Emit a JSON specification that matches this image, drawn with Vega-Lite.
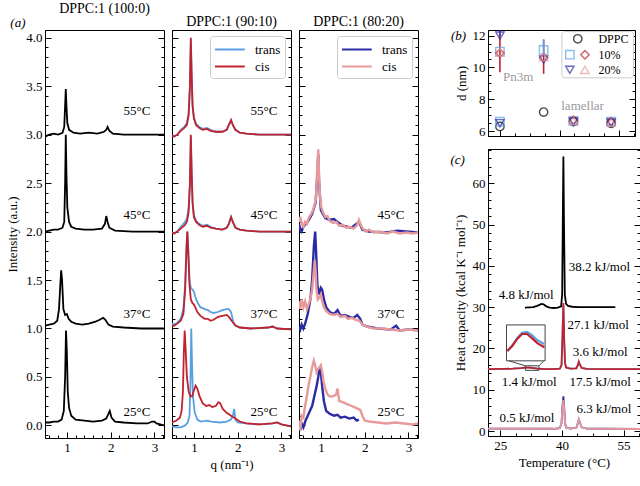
{
"$schema":"https://vega.github.io/schema/vega-lite/v6.json",
"background":"white",
"padding":{"left":6,"top":1,"right":0,"bottom":2},
"config":{
 "view":{"stroke":"black","strokeWidth":1},
 "font":"Liberation Serif",
 "axis":{"domainColor":"black","tickColor":"black","labelColor":"black","titleColor":"black","labelFont":"Liberation Serif","titleFont":"Liberation Serif","labelFontSize":13,"titleFontSize":13,"titleFontWeight":"normal","grid":false,"labelOverlap":false,"labelFlush":false,"tickWidth":1,"labelPadding":9,"tickSize":-6,"minExtent":0},
 "title":{"font":"Liberation Serif","fontSize":14,"fontWeight":"normal","offset":1,"color":"black","frame":"group"},
 "text":{"font":"Liberation Serif","fontSize":13,"color":"black"},
 "legend":{"labelFont":"Liberation Serif","labelFontSize":13,"labelColor":"black"}
},
"datasets":{
"a1":[
{"t":"25","q":0.5,"I":0.03},{"t":"25","q":0.6,"I":0.03},{"t":"25","q":0.7,"I":0.04},{"t":"25","q":0.8,"I":0.04},{"t":"25","q":0.88,"I":0.06},{"t":"25","q":0.93,"I":0.15},{"t":"25","q":0.96,"I":0.5},{"t":"25","q":0.98,"I":0.98},{"t":"25","q":1.0,"I":0.75},{"t":"25","q":1.02,"I":0.35},{"t":"25","q":1.05,"I":0.18},{"t":"25","q":1.1,"I":0.1},{"t":"25","q":1.2,"I":0.06},{"t":"25","q":1.4,"I":0.05},{"t":"25","q":1.6,"I":0.04},{"t":"25","q":1.8,"I":0.05},{"t":"25","q":1.9,"I":0.07},{"t":"25","q":1.95,"I":0.12},{"t":"25","q":1.98,"I":0.15},{"t":"25","q":2.02,"I":0.08},{"t":"25","q":2.1,"I":0.04},{"t":"25","q":2.3,"I":0.03},{"t":"25","q":2.6,"I":0.02},{"t":"25","q":2.85,"I":0.02},{"t":"25","q":2.95,"I":0.04},{"t":"25","q":3.0,"I":0.04},{"t":"25","q":3.05,"I":0.02},{"t":"25","q":3.22,"I":0.0},
{"t":"37","q":0.5,"I":1.03},{"t":"37","q":0.6,"I":1.04},{"t":"37","q":0.7,"I":1.05},{"t":"37","q":0.78,"I":1.08},{"t":"37","q":0.82,"I":1.2},{"t":"37","q":0.85,"I":1.45},{"t":"37","q":0.87,"I":1.6},{"t":"37","q":0.89,"I":1.5},{"t":"37","q":0.92,"I":1.2},{"t":"37","q":0.96,"I":1.14},{"t":"37","q":1.0,"I":1.15},{"t":"37","q":1.04,"I":1.1},{"t":"37","q":1.1,"I":1.07},{"t":"37","q":1.2,"I":1.05},{"t":"37","q":1.35,"I":1.04},{"t":"37","q":1.5,"I":1.05},{"t":"37","q":1.65,"I":1.07},{"t":"37","q":1.75,"I":1.09},{"t":"37","q":1.83,"I":1.11},{"t":"37","q":1.88,"I":1.09},{"t":"37","q":1.95,"I":1.04},{"t":"37","q":2.05,"I":1.02},{"t":"37","q":2.3,"I":1.01},{"t":"37","q":2.7,"I":1.0},{"t":"37","q":3.22,"I":1.0},
{"t":"45","q":0.5,"I":2.0},{"t":"45","q":0.6,"I":2.01},{"t":"45","q":0.7,"I":2.02},{"t":"45","q":0.8,"I":2.02},{"t":"45","q":0.9,"I":2.04},{"t":"45","q":0.94,"I":2.1},{"t":"45","q":0.96,"I":2.5},{"t":"45","q":0.975,"I":3.0},{"t":"45","q":0.99,"I":2.6},{"t":"45","q":1.01,"I":2.25},{"t":"45","q":1.05,"I":2.1},{"t":"45","q":1.1,"I":2.05},{"t":"45","q":1.2,"I":2.03},{"t":"45","q":1.4,"I":2.02},{"t":"45","q":1.6,"I":2.02},{"t":"45","q":1.8,"I":2.03},{"t":"45","q":1.87,"I":2.08},{"t":"45","q":1.9,"I":2.16},{"t":"45","q":1.93,"I":2.1},{"t":"45","q":1.97,"I":2.04},{"t":"45","q":2.1,"I":2.01},{"t":"45","q":2.5,"I":2.0},{"t":"45","q":3.22,"I":2.0},
{"t":"55","q":0.5,"I":2.98},{"t":"55","q":0.6,"I":3.0},{"t":"55","q":0.7,"I":3.01},{"t":"55","q":0.8,"I":3.0},{"t":"55","q":0.9,"I":3.02},{"t":"55","q":0.94,"I":3.08},{"t":"55","q":0.96,"I":3.3},{"t":"55","q":0.975,"I":3.47},{"t":"55","q":0.99,"I":3.3},{"t":"55","q":1.01,"I":3.12},{"t":"55","q":1.05,"I":3.05},{"t":"55","q":1.15,"I":3.02},{"t":"55","q":1.3,"I":3.01},{"t":"55","q":1.5,"I":3.02},{"t":"55","q":1.7,"I":3.01},{"t":"55","q":1.85,"I":3.03},{"t":"55","q":1.9,"I":3.05},{"t":"55","q":1.93,"I":3.08},{"t":"55","q":1.97,"I":3.04},{"t":"55","q":2.05,"I":3.01},{"t":"55","q":2.3,"I":3.0},{"t":"55","q":2.7,"I":3.0},{"t":"55","q":3.22,"I":3.0}
],
"a2":[
{"s":"trans","t":"55","q":0.5,"I":2.99},{"s":"trans","t":"55","q":0.55,"I":2.98},{"s":"trans","t":"55","q":0.62,"I":3.0},{"s":"trans","t":"55","q":0.7,"I":3.05},{"s":"trans","t":"55","q":0.78,"I":3.08},{"s":"trans","t":"55","q":0.84,"I":3.12},{"s":"trans","t":"55","q":0.88,"I":3.22},{"s":"trans","t":"55","q":0.91,"I":3.5},{"s":"trans","t":"55","q":0.93,"I":3.98},{"s":"trans","t":"55","q":0.95,"I":3.6},{"s":"trans","t":"55","q":0.97,"I":3.3},{"s":"trans","t":"55","q":1.0,"I":3.18},{"s":"trans","t":"55","q":1.05,"I":3.11},{"s":"trans","t":"55","q":1.12,"I":3.08},{"s":"trans","t":"55","q":1.2,"I":3.06},{"s":"trans","t":"55","q":1.3,"I":3.07},{"s":"trans","t":"55","q":1.38,"I":3.05},{"s":"trans","t":"55","q":1.5,"I":3.03},{"s":"trans","t":"55","q":1.65,"I":3.03},{"s":"trans","t":"55","q":1.75,"I":3.05},{"s":"trans","t":"55","q":1.8,"I":3.1},{"s":"trans","t":"55","q":1.85,"I":3.15},{"s":"trans","t":"55","q":1.89,"I":3.1},{"s":"trans","t":"55","q":1.95,"I":3.05},{"s":"trans","t":"55","q":2.05,"I":3.02},{"s":"trans","t":"55","q":2.2,"I":3.01},{"s":"trans","t":"55","q":2.5,"I":3.0},{"s":"trans","t":"55","q":3.22,"I":3.0},
{"s":"trans","t":"45","q":0.5,"I":1.99},{"s":"trans","t":"45","q":0.55,"I":1.98},{"s":"trans","t":"45","q":0.62,"I":2.0},{"s":"trans","t":"45","q":0.7,"I":2.05},{"s":"trans","t":"45","q":0.78,"I":2.09},{"s":"trans","t":"45","q":0.84,"I":2.13},{"s":"trans","t":"45","q":0.88,"I":2.25},{"s":"trans","t":"45","q":0.91,"I":2.5},{"s":"trans","t":"45","q":0.93,"I":2.98},{"s":"trans","t":"45","q":0.95,"I":2.6},{"s":"trans","t":"45","q":0.97,"I":2.3},{"s":"trans","t":"45","q":1.0,"I":2.17},{"s":"trans","t":"45","q":1.05,"I":2.11},{"s":"trans","t":"45","q":1.12,"I":2.08},{"s":"trans","t":"45","q":1.2,"I":2.06},{"s":"trans","t":"45","q":1.3,"I":2.07},{"s":"trans","t":"45","q":1.38,"I":2.05},{"s":"trans","t":"45","q":1.5,"I":2.03},{"s":"trans","t":"45","q":1.65,"I":2.02},{"s":"trans","t":"45","q":1.75,"I":2.04},{"s":"trans","t":"45","q":1.8,"I":2.08},{"s":"trans","t":"45","q":1.85,"I":2.15},{"s":"trans","t":"45","q":1.89,"I":2.1},{"s":"trans","t":"45","q":1.95,"I":2.04},{"s":"trans","t":"45","q":2.05,"I":2.02},{"s":"trans","t":"45","q":2.2,"I":2.01},{"s":"trans","t":"45","q":2.5,"I":2.0},{"s":"trans","t":"45","q":3.22,"I":2.0},
{"s":"trans","t":"37","q":0.5,"I":1.05},{"s":"trans","t":"37","q":0.55,"I":1.04},{"s":"trans","t":"37","q":0.62,"I":1.06},{"s":"trans","t":"37","q":0.7,"I":1.1},{"s":"trans","t":"37","q":0.76,"I":1.2},{"s":"trans","t":"37","q":0.8,"I":1.45},{"s":"trans","t":"37","q":0.83,"I":1.85},{"s":"trans","t":"37","q":0.85,"I":2.0},{"s":"trans","t":"37","q":0.87,"I":1.85},{"s":"trans","t":"37","q":0.9,"I":1.5},{"s":"trans","t":"37","q":0.93,"I":1.42},{"s":"trans","t":"37","q":0.97,"I":1.4},{"s":"trans","t":"37","q":1.0,"I":1.38},{"s":"trans","t":"37","q":1.03,"I":1.33},{"s":"trans","t":"37","q":1.08,"I":1.27},{"s":"trans","t":"37","q":1.15,"I":1.22},{"s":"trans","t":"37","q":1.25,"I":1.2},{"s":"trans","t":"37","q":1.32,"I":1.19},{"s":"trans","t":"37","q":1.38,"I":1.17},{"s":"trans","t":"37","q":1.45,"I":1.16},{"s":"trans","t":"37","q":1.55,"I":1.17},{"s":"trans","t":"37","q":1.65,"I":1.19},{"s":"trans","t":"37","q":1.75,"I":1.2},{"s":"trans","t":"37","q":1.8,"I":1.2},{"s":"trans","t":"37","q":1.85,"I":1.17},{"s":"trans","t":"37","q":1.9,"I":1.07},{"s":"trans","t":"37","q":1.95,"I":1.03},{"s":"trans","t":"37","q":2.05,"I":1.01},{"s":"trans","t":"37","q":2.3,"I":1.0},{"s":"trans","t":"37","q":2.7,"I":1.01},{"s":"trans","t":"37","q":2.8,"I":1.02},{"s":"trans","t":"37","q":2.9,"I":1.0},{"s":"trans","t":"37","q":3.22,"I":0.99},
{"s":"trans","t":"25","q":0.5,"I":-0.01},{"s":"trans","t":"25","q":0.6,"I":-0.02},{"s":"trans","t":"25","q":0.7,"I":-0.02},{"s":"trans","t":"25","q":0.8,"I":0.0},{"s":"trans","t":"25","q":0.86,"I":0.03},{"s":"trans","t":"25","q":0.9,"I":0.1},{"s":"trans","t":"25","q":0.92,"I":0.4},{"s":"trans","t":"25","q":0.94,"I":1.0},{"s":"trans","t":"25","q":0.96,"I":0.6},{"s":"trans","t":"25","q":0.98,"I":0.3},{"s":"trans","t":"25","q":1.02,"I":0.13},{"s":"trans","t":"25","q":1.08,"I":0.06},{"s":"trans","t":"25","q":1.15,"I":0.04},{"s":"trans","t":"25","q":1.3,"I":0.05},{"s":"trans","t":"25","q":1.4,"I":0.04},{"s":"trans","t":"25","q":1.6,"I":0.03},{"s":"trans","t":"25","q":1.75,"I":0.04},{"s":"trans","t":"25","q":1.85,"I":0.06},{"s":"trans","t":"25","q":1.9,"I":0.12},{"s":"trans","t":"25","q":1.92,"I":0.17},{"s":"trans","t":"25","q":1.95,"I":0.06},{"s":"trans","t":"25","q":2.0,"I":0.03},{"s":"trans","t":"25","q":2.2,"I":0.02},{"s":"trans","t":"25","q":2.5,"I":0.01},{"s":"trans","t":"25","q":2.8,"I":0.02},{"s":"trans","t":"25","q":2.9,"I":0.03},{"s":"trans","t":"25","q":3.0,"I":0.01},{"s":"trans","t":"25","q":3.22,"I":-0.01},
{"s":"cis","t":"55","q":0.5,"I":2.99},{"s":"cis","t":"55","q":0.55,"I":2.98},{"s":"cis","t":"55","q":0.62,"I":3.0},{"s":"cis","t":"55","q":0.7,"I":3.04},{"s":"cis","t":"55","q":0.78,"I":3.07},{"s":"cis","t":"55","q":0.84,"I":3.1},{"s":"cis","t":"55","q":0.88,"I":3.2},{"s":"cis","t":"55","q":0.91,"I":3.5},{"s":"cis","t":"55","q":0.93,"I":4.0},{"s":"cis","t":"55","q":0.95,"I":3.6},{"s":"cis","t":"55","q":0.97,"I":3.3},{"s":"cis","t":"55","q":1.0,"I":3.17},{"s":"cis","t":"55","q":1.05,"I":3.1},{"s":"cis","t":"55","q":1.12,"I":3.07},{"s":"cis","t":"55","q":1.2,"I":3.05},{"s":"cis","t":"55","q":1.3,"I":3.06},{"s":"cis","t":"55","q":1.38,"I":3.04},{"s":"cis","t":"55","q":1.5,"I":3.03},{"s":"cis","t":"55","q":1.65,"I":3.03},{"s":"cis","t":"55","q":1.75,"I":3.05},{"s":"cis","t":"55","q":1.8,"I":3.1},{"s":"cis","t":"55","q":1.85,"I":3.15},{"s":"cis","t":"55","q":1.89,"I":3.1},{"s":"cis","t":"55","q":1.95,"I":3.05},{"s":"cis","t":"55","q":2.05,"I":3.02},{"s":"cis","t":"55","q":2.2,"I":3.01},{"s":"cis","t":"55","q":2.5,"I":3.0},{"s":"cis","t":"55","q":3.22,"I":3.0},
{"s":"cis","t":"45","q":0.5,"I":1.99},{"s":"cis","t":"45","q":0.55,"I":1.98},{"s":"cis","t":"45","q":0.62,"I":2.0},{"s":"cis","t":"45","q":0.7,"I":2.03},{"s":"cis","t":"45","q":0.78,"I":2.06},{"s":"cis","t":"45","q":0.84,"I":2.1},{"s":"cis","t":"45","q":0.88,"I":2.2},{"s":"cis","t":"45","q":0.91,"I":2.5},{"s":"cis","t":"45","q":0.93,"I":3.0},{"s":"cis","t":"45","q":0.95,"I":2.6},{"s":"cis","t":"45","q":0.97,"I":2.3},{"s":"cis","t":"45","q":1.0,"I":2.15},{"s":"cis","t":"45","q":1.05,"I":2.1},{"s":"cis","t":"45","q":1.12,"I":2.07},{"s":"cis","t":"45","q":1.2,"I":2.05},{"s":"cis","t":"45","q":1.3,"I":2.06},{"s":"cis","t":"45","q":1.38,"I":2.04},{"s":"cis","t":"45","q":1.5,"I":2.03},{"s":"cis","t":"45","q":1.65,"I":2.02},{"s":"cis","t":"45","q":1.75,"I":2.04},{"s":"cis","t":"45","q":1.8,"I":2.08},{"s":"cis","t":"45","q":1.85,"I":2.15},{"s":"cis","t":"45","q":1.89,"I":2.1},{"s":"cis","t":"45","q":1.95,"I":2.04},{"s":"cis","t":"45","q":2.05,"I":2.02},{"s":"cis","t":"45","q":2.2,"I":2.01},{"s":"cis","t":"45","q":2.5,"I":2.0},{"s":"cis","t":"45","q":3.22,"I":2.0},
{"s":"cis","t":"37","q":0.5,"I":1.02},{"s":"cis","t":"37","q":0.55,"I":1.03},{"s":"cis","t":"37","q":0.62,"I":1.05},{"s":"cis","t":"37","q":0.7,"I":1.08},{"s":"cis","t":"37","q":0.76,"I":1.15},{"s":"cis","t":"37","q":0.8,"I":1.4},{"s":"cis","t":"37","q":0.83,"I":1.8},{"s":"cis","t":"37","q":0.85,"I":2.0},{"s":"cis","t":"37","q":0.87,"I":1.8},{"s":"cis","t":"37","q":0.9,"I":1.45},{"s":"cis","t":"37","q":0.93,"I":1.3},{"s":"cis","t":"37","q":0.97,"I":1.26},{"s":"cis","t":"37","q":1.0,"I":1.25},{"s":"cis","t":"37","q":1.03,"I":1.22},{"s":"cis","t":"37","q":1.08,"I":1.17},{"s":"cis","t":"37","q":1.15,"I":1.13},{"s":"cis","t":"37","q":1.25,"I":1.1},{"s":"cis","t":"37","q":1.32,"I":1.1},{"s":"cis","t":"37","q":1.38,"I":1.08},{"s":"cis","t":"37","q":1.45,"I":1.09},{"s":"cis","t":"37","q":1.55,"I":1.12},{"s":"cis","t":"37","q":1.65,"I":1.13},{"s":"cis","t":"37","q":1.75,"I":1.14},{"s":"cis","t":"37","q":1.8,"I":1.12},{"s":"cis","t":"37","q":1.88,"I":1.07},{"s":"cis","t":"37","q":1.95,"I":1.03},{"s":"cis","t":"37","q":2.05,"I":1.01},{"s":"cis","t":"37","q":2.3,"I":1.0},{"s":"cis","t":"37","q":2.7,"I":1.01},{"s":"cis","t":"37","q":2.8,"I":1.02},{"s":"cis","t":"37","q":2.9,"I":1.0},{"s":"cis","t":"37","q":3.22,"I":0.99},
{"s":"cis","t":"25","q":0.5,"I":0.03},{"s":"cis","t":"25","q":0.6,"I":0.05},{"s":"cis","t":"25","q":0.68,"I":0.08},{"s":"cis","t":"25","q":0.72,"I":0.15},{"s":"cis","t":"25","q":0.75,"I":0.35},{"s":"cis","t":"25","q":0.77,"I":0.75},{"s":"cis","t":"25","q":0.79,"I":0.98},{"s":"cis","t":"25","q":0.81,"I":0.8},{"s":"cis","t":"25","q":0.84,"I":0.5},{"s":"cis","t":"25","q":0.88,"I":0.35},{"s":"cis","t":"25","q":0.92,"I":0.3},{"s":"cis","t":"25","q":0.96,"I":0.3},{"s":"cis","t":"25","q":1.0,"I":0.36},{"s":"cis","t":"25","q":1.04,"I":0.41},{"s":"cis","t":"25","q":1.08,"I":0.38},{"s":"cis","t":"25","q":1.13,"I":0.3},{"s":"cis","t":"25","q":1.2,"I":0.23},{"s":"cis","t":"25","q":1.28,"I":0.2},{"s":"cis","t":"25","q":1.35,"I":0.21},{"s":"cis","t":"25","q":1.42,"I":0.19},{"s":"cis","t":"25","q":1.5,"I":0.2},{"s":"cis","t":"25","q":1.56,"I":0.24},{"s":"cis","t":"25","q":1.6,"I":0.23},{"s":"cis","t":"25","q":1.66,"I":0.17},{"s":"cis","t":"25","q":1.75,"I":0.13},{"s":"cis","t":"25","q":1.85,"I":0.1},{"s":"cis","t":"25","q":1.95,"I":0.07},{"s":"cis","t":"25","q":2.05,"I":0.04},{"s":"cis","t":"25","q":2.2,"I":0.02},{"s":"cis","t":"25","q":2.5,"I":0.01},{"s":"cis","t":"25","q":2.8,"I":0.02},{"s":"cis","t":"25","q":2.9,"I":0.03},{"s":"cis","t":"25","q":3.0,"I":0.01},{"s":"cis","t":"25","q":3.22,"I":-0.01}
],
"a3":[
{"s":"trans","t":"45","q":0.5,"I":2.08},{"s":"trans","t":"45","q":0.53,"I":2.02},{"s":"trans","t":"45","q":0.56,"I":2.0},{"s":"trans","t":"45","q":0.6,"I":2.05},{"s":"trans","t":"45","q":0.7,"I":2.1},{"s":"trans","t":"45","q":0.8,"I":2.18},{"s":"trans","t":"45","q":0.88,"I":2.3},{"s":"trans","t":"45","q":0.92,"I":2.6},{"s":"trans","t":"45","q":0.94,"I":2.8},{"s":"trans","t":"45","q":0.96,"I":2.5},{"s":"trans","t":"45","q":1.0,"I":2.22},{"s":"trans","t":"45","q":1.1,"I":2.14},{"s":"trans","t":"45","q":1.2,"I":2.12},{"s":"trans","t":"45","q":1.3,"I":2.13},{"s":"trans","t":"45","q":1.38,"I":2.1},{"s":"trans","t":"45","q":1.5,"I":2.06},{"s":"trans","t":"45","q":1.7,"I":2.04},{"s":"trans","t":"45","q":1.87,"I":2.1},{"s":"trans","t":"45","q":1.95,"I":2.02},{"s":"trans","t":"45","q":2.1,"I":2.0},{"s":"trans","t":"45","q":2.5,"I":1.99},{"s":"trans","t":"45","q":2.75,"I":2.01},{"s":"trans","t":"45","q":3.22,"I":1.99},
{"s":"trans","t":"37","q":0.5,"I":1.02},{"s":"trans","t":"37","q":0.53,"I":0.99},{"s":"trans","t":"37","q":0.56,"I":1.04},{"s":"trans","t":"37","q":0.6,"I":1.0},{"s":"trans","t":"37","q":0.64,"I":1.05},{"s":"trans","t":"37","q":0.7,"I":1.15},{"s":"trans","t":"37","q":0.76,"I":1.3},{"s":"trans","t":"37","q":0.8,"I":1.5},{"s":"trans","t":"37","q":0.84,"I":1.85},{"s":"trans","t":"37","q":0.87,"I":2.0},{"s":"trans","t":"37","q":0.89,"I":1.8},{"s":"trans","t":"37","q":0.92,"I":1.45},{"s":"trans","t":"37","q":0.96,"I":1.35},{"s":"trans","t":"37","q":1.0,"I":1.42},{"s":"trans","t":"37","q":1.03,"I":1.4},{"s":"trans","t":"37","q":1.07,"I":1.3},{"s":"trans","t":"37","q":1.12,"I":1.22},{"s":"trans","t":"37","q":1.2,"I":1.17},{"s":"trans","t":"37","q":1.3,"I":1.15},{"s":"trans","t":"37","q":1.38,"I":1.19},{"s":"trans","t":"37","q":1.45,"I":1.13},{"s":"trans","t":"37","q":1.55,"I":1.14},{"s":"trans","t":"37","q":1.65,"I":1.12},{"s":"trans","t":"37","q":1.75,"I":1.11},{"s":"trans","t":"37","q":1.83,"I":1.14},{"s":"trans","t":"37","q":1.9,"I":1.1},{"s":"trans","t":"37","q":1.95,"I":1.04},{"s":"trans","t":"37","q":2.05,"I":1.02},{"s":"trans","t":"37","q":2.3,"I":1.0},{"s":"trans","t":"37","q":2.6,"I":0.99},{"s":"trans","t":"37","q":2.72,"I":1.03},{"s":"trans","t":"37","q":2.8,"I":0.98},{"s":"trans","t":"37","q":3.0,"I":0.99},{"s":"trans","t":"37","q":3.22,"I":0.98},
{"s":"trans","t":"25","q":0.5,"I":0.0},{"s":"trans","t":"25","q":0.53,"I":-0.05},{"s":"trans","t":"25","q":0.56,"I":0.02},{"s":"trans","t":"25","q":0.6,"I":-0.02},{"s":"trans","t":"25","q":0.65,"I":0.05},{"s":"trans","t":"25","q":0.7,"I":0.1},{"s":"trans","t":"25","q":0.75,"I":0.15},{"s":"trans","t":"25","q":0.8,"I":0.2},{"s":"trans","t":"25","q":0.85,"I":0.3},{"s":"trans","t":"25","q":0.9,"I":0.4},{"s":"trans","t":"25","q":0.94,"I":0.5},{"s":"trans","t":"25","q":0.97,"I":0.6},{"s":"trans","t":"25","q":1.0,"I":0.55},{"s":"trans","t":"25","q":1.03,"I":0.4},{"s":"trans","t":"25","q":1.07,"I":0.25},{"s":"trans","t":"25","q":1.12,"I":0.15},{"s":"trans","t":"25","q":1.2,"I":0.12},{"s":"trans","t":"25","q":1.3,"I":0.1},{"s":"trans","t":"25","q":1.38,"I":0.11},{"s":"trans","t":"25","q":1.45,"I":0.08},{"s":"trans","t":"25","q":1.55,"I":0.09},{"s":"trans","t":"25","q":1.65,"I":0.07},{"s":"trans","t":"25","q":1.75,"I":0.08},{"s":"trans","t":"25","q":1.82,"I":0.05},{"s":"trans","t":"25","q":1.87,"I":0.06},
{"s":"cis","t":"45","q":0.5,"I":2.1},{"s":"cis","t":"45","q":0.53,"I":2.15},{"s":"cis","t":"45","q":0.56,"I":2.08},{"s":"cis","t":"45","q":0.6,"I":2.05},{"s":"cis","t":"45","q":0.64,"I":2.1},{"s":"cis","t":"45","q":0.68,"I":2.08},{"s":"cis","t":"45","q":0.72,"I":2.14},{"s":"cis","t":"45","q":0.76,"I":2.17},{"s":"cis","t":"45","q":0.8,"I":2.2},{"s":"cis","t":"45","q":0.84,"I":2.25},{"s":"cis","t":"45","q":0.88,"I":2.32},{"s":"cis","t":"45","q":0.9,"I":2.45},{"s":"cis","t":"45","q":0.92,"I":2.7},{"s":"cis","t":"45","q":0.94,"I":2.85},{"s":"cis","t":"45","q":0.96,"I":2.55},{"s":"cis","t":"45","q":0.98,"I":2.35},{"s":"cis","t":"45","q":1.01,"I":2.25},{"s":"cis","t":"45","q":1.05,"I":2.2},{"s":"cis","t":"45","q":1.1,"I":2.15},{"s":"cis","t":"45","q":1.15,"I":2.16},{"s":"cis","t":"45","q":1.2,"I":2.11},{"s":"cis","t":"45","q":1.28,"I":2.09},{"s":"cis","t":"45","q":1.35,"I":2.1},{"s":"cis","t":"45","q":1.42,"I":2.06},{"s":"cis","t":"45","q":1.5,"I":2.07},{"s":"cis","t":"45","q":1.58,"I":2.04},{"s":"cis","t":"45","q":1.66,"I":2.05},{"s":"cis","t":"45","q":1.74,"I":2.03},{"s":"cis","t":"45","q":1.82,"I":2.06},{"s":"cis","t":"45","q":1.87,"I":2.12},{"s":"cis","t":"45","q":1.91,"I":2.07},{"s":"cis","t":"45","q":1.96,"I":2.03},{"s":"cis","t":"45","q":2.03,"I":2.0},{"s":"cis","t":"45","q":2.1,"I":2.02},{"s":"cis","t":"45","q":2.2,"I":1.99},{"s":"cis","t":"45","q":2.35,"I":2.0},{"s":"cis","t":"45","q":2.5,"I":1.98},{"s":"cis","t":"45","q":2.65,"I":2.0},{"s":"cis","t":"45","q":2.8,"I":1.98},{"s":"cis","t":"45","q":2.95,"I":1.99},{"s":"cis","t":"45","q":3.1,"I":1.98},{"s":"cis","t":"45","q":3.22,"I":1.99},
{"s":"cis","t":"37","q":0.5,"I":1.28},{"s":"cis","t":"37","q":0.53,"I":1.2},{"s":"cis","t":"37","q":0.56,"I":1.3},{"s":"cis","t":"37","q":0.6,"I":1.22},{"s":"cis","t":"37","q":0.64,"I":1.28},{"s":"cis","t":"37","q":0.68,"I":1.2},{"s":"cis","t":"37","q":0.72,"I":1.25},{"s":"cis","t":"37","q":0.76,"I":1.3},{"s":"cis","t":"37","q":0.8,"I":1.4},{"s":"cis","t":"37","q":0.83,"I":1.55},{"s":"cis","t":"37","q":0.86,"I":1.7},{"s":"cis","t":"37","q":0.88,"I":1.6},{"s":"cis","t":"37","q":0.9,"I":1.4},{"s":"cis","t":"37","q":0.93,"I":1.3},{"s":"cis","t":"37","q":0.97,"I":1.32},{"s":"cis","t":"37","q":1.0,"I":1.35},{"s":"cis","t":"37","q":1.03,"I":1.28},{"s":"cis","t":"37","q":1.07,"I":1.22},{"s":"cis","t":"37","q":1.12,"I":1.18},{"s":"cis","t":"37","q":1.2,"I":1.15},{"s":"cis","t":"37","q":1.3,"I":1.14},{"s":"cis","t":"37","q":1.38,"I":1.15},{"s":"cis","t":"37","q":1.45,"I":1.12},{"s":"cis","t":"37","q":1.55,"I":1.13},{"s":"cis","t":"37","q":1.62,"I":1.1},{"s":"cis","t":"37","q":1.7,"I":1.11},{"s":"cis","t":"37","q":1.8,"I":1.09},{"s":"cis","t":"37","q":1.88,"I":1.08},{"s":"cis","t":"37","q":1.95,"I":1.04},{"s":"cis","t":"37","q":2.05,"I":1.02},{"s":"cis","t":"37","q":2.2,"I":1.0},{"s":"cis","t":"37","q":2.4,"I":1.0},{"s":"cis","t":"37","q":2.6,"I":0.99},{"s":"cis","t":"37","q":2.8,"I":0.98},{"s":"cis","t":"37","q":3.0,"I":0.99},{"s":"cis","t":"37","q":3.22,"I":0.98},
{"s":"cis","t":"25","q":0.5,"I":0.05},{"s":"cis","t":"25","q":0.53,"I":-0.05},{"s":"cis","t":"25","q":0.56,"I":0.1},{"s":"cis","t":"25","q":0.6,"I":0.08},{"s":"cis","t":"25","q":0.64,"I":0.2},{"s":"cis","t":"25","q":0.68,"I":0.3},{"s":"cis","t":"25","q":0.72,"I":0.42},{"s":"cis","t":"25","q":0.76,"I":0.5},{"s":"cis","t":"25","q":0.8,"I":0.6},{"s":"cis","t":"25","q":0.84,"I":0.67},{"s":"cis","t":"25","q":0.87,"I":0.62},{"s":"cis","t":"25","q":0.9,"I":0.55},{"s":"cis","t":"25","q":0.93,"I":0.58},{"s":"cis","t":"25","q":0.97,"I":0.6},{"s":"cis","t":"25","q":1.0,"I":0.62},{"s":"cis","t":"25","q":1.03,"I":0.55},{"s":"cis","t":"25","q":1.06,"I":0.45},{"s":"cis","t":"25","q":1.1,"I":0.38},{"s":"cis","t":"25","q":1.15,"I":0.32},{"s":"cis","t":"25","q":1.2,"I":0.3},{"s":"cis","t":"25","q":1.28,"I":0.3},{"s":"cis","t":"25","q":1.35,"I":0.32},{"s":"cis","t":"25","q":1.38,"I":0.38},{"s":"cis","t":"25","q":1.42,"I":0.25},{"s":"cis","t":"25","q":1.5,"I":0.24},{"s":"cis","t":"25","q":1.6,"I":0.22},{"s":"cis","t":"25","q":1.7,"I":0.2},{"s":"cis","t":"25","q":1.8,"I":0.18},{"s":"cis","t":"25","q":1.9,"I":0.16},{"s":"cis","t":"25","q":1.95,"I":0.1},{"s":"cis","t":"25","q":2.0,"I":0.05},{"s":"cis","t":"25","q":2.1,"I":0.04},{"s":"cis","t":"25","q":2.3,"I":0.03},{"s":"cis","t":"25","q":2.5,"I":0.02},{"s":"cis","t":"25","q":2.7,"I":0.03},{"s":"cis","t":"25","q":2.9,"I":0.02},{"s":"cis","t":"25","q":3.1,"I":0.01},{"s":"cis","t":"25","q":3.22,"I":0.02}
],
"bpts":[
{"s":"DPPC","T":25,"d":6.3},{"s":"DPPC","T":36,"d":7.2},{"s":"DPPC","T":43.5,"d":6.6},{"s":"DPPC","T":53,"d":6.5},
{"s":"10% trans","T":25,"d":6.6},{"s":"10% trans","T":25,"d":11.0},{"s":"10% trans","T":36,"d":11.1},{"s":"10% trans","T":43.5,"d":6.65},{"s":"10% trans","T":53,"d":6.6},
{"s":"10% cis","T":25,"d":10.9},{"s":"10% cis","T":36,"d":10.6},{"s":"10% cis","T":43.5,"d":6.7},{"s":"10% cis","T":53,"d":6.6},
{"s":"20% trans","T":25,"d":6.5},{"s":"20% trans","T":25,"d":12.0},{"s":"20% trans","T":36,"d":10.5},{"s":"20% trans","T":43.5,"d":6.6},{"s":"20% trans","T":53,"d":6.55},
{"s":"20% cis","T":25,"d":10.95},{"s":"20% cis","T":36,"d":10.65},{"s":"20% cis","T":43.5,"d":6.65},{"s":"20% cis","T":53,"d":6.55}
],
"c":[
{"s":"DPPC","T":31,"C":29.9},{"s":"DPPC","T":33,"C":30},{"s":"DPPC","T":34,"C":30.3},{"s":"DPPC","T":35,"C":30.8},{"s":"DPPC","T":35.5,"C":30.7},{"s":"DPPC","T":36.2,"C":30.2},{"s":"DPPC","T":37,"C":29.9},{"s":"DPPC","T":38,"C":29.8},{"s":"DPPC","T":39,"C":29.9},{"s":"DPPC","T":39.8,"C":30.2},{"s":"DPPC","T":40.05,"C":33},{"s":"DPPC","T":40.2,"C":50},{"s":"DPPC","T":40.35,"C":66.5},{"s":"DPPC","T":40.5,"C":50},{"s":"DPPC","T":40.7,"C":33},{"s":"DPPC","T":41.0,"C":30.8},{"s":"DPPC","T":41.5,"C":30.3},{"s":"DPPC","T":42.5,"C":30.1},{"s":"DPPC","T":44,"C":30},{"s":"DPPC","T":48,"C":30},{"s":"DPPC","T":53,"C":30},
{"s":"10% trans","T":22,"C":15},{"s":"10% trans","T":26,"C":15.05},{"s":"10% trans","T":28,"C":15.1},{"s":"10% trans","T":30,"C":15.25},{"s":"10% trans","T":31,"C":15.38},{"s":"10% trans","T":32,"C":15.4},{"s":"10% trans","T":33,"C":15.3},{"s":"10% trans","T":34,"C":15.15},{"s":"10% trans","T":36,"C":15},{"s":"10% trans","T":38,"C":15},{"s":"10% trans","T":39.5,"C":15.1},{"s":"10% trans","T":39.9,"C":16},{"s":"10% trans","T":40.1,"C":22},{"s":"10% trans","T":40.35,"C":30.5},{"s":"10% trans","T":40.55,"C":22},{"s":"10% trans","T":40.75,"C":16.5},{"s":"10% trans","T":41,"C":15.4},{"s":"10% trans","T":42,"C":15.1},{"s":"10% trans","T":43.5,"C":15.2},{"s":"10% trans","T":43.9,"C":16},{"s":"10% trans","T":44.1,"C":16.8},{"s":"10% trans","T":44.4,"C":16},{"s":"10% trans","T":44.8,"C":15.3},{"s":"10% trans","T":46,"C":15.05},{"s":"10% trans","T":50,"C":15},{"s":"10% trans","T":59,"C":15},
{"s":"10% cis","T":22,"C":15},{"s":"10% cis","T":26,"C":15.05},{"s":"10% cis","T":28,"C":15.1},{"s":"10% cis","T":30,"C":15.25},{"s":"10% cis","T":31,"C":15.35},{"s":"10% cis","T":32,"C":15.35},{"s":"10% cis","T":33,"C":15.25},{"s":"10% cis","T":34,"C":15.1},{"s":"10% cis","T":36,"C":15},{"s":"10% cis","T":38,"C":15},{"s":"10% cis","T":39.5,"C":15.1},{"s":"10% cis","T":39.9,"C":16},{"s":"10% cis","T":40.1,"C":22},{"s":"10% cis","T":40.35,"C":31},{"s":"10% cis","T":40.55,"C":22},{"s":"10% cis","T":40.75,"C":16.5},{"s":"10% cis","T":41,"C":15.4},{"s":"10% cis","T":42,"C":15.1},{"s":"10% cis","T":43.5,"C":15.2},{"s":"10% cis","T":43.9,"C":16},{"s":"10% cis","T":44.1,"C":16.8},{"s":"10% cis","T":44.4,"C":16},{"s":"10% cis","T":44.8,"C":15.3},{"s":"10% cis","T":46,"C":15.05},{"s":"10% cis","T":50,"C":15},{"s":"10% cis","T":59,"C":15},
{"s":"20% trans","T":22,"C":0.6},{"s":"20% trans","T":30,"C":0.6},{"s":"20% trans","T":35,"C":0.55},{"s":"20% trans","T":38,"C":0.55},{"s":"20% trans","T":39.5,"C":0.7},{"s":"20% trans","T":39.9,"C":2},{"s":"20% trans","T":40.1,"C":5.8},{"s":"20% trans","T":40.35,"C":8.4},{"s":"20% trans","T":40.55,"C":5.8},{"s":"20% trans","T":40.75,"C":2},{"s":"20% trans","T":41,"C":0.9},{"s":"20% trans","T":42,"C":0.6},{"s":"20% trans","T":43.5,"C":0.8},{"s":"20% trans","T":43.9,"C":2},{"s":"20% trans","T":44.1,"C":2.8},{"s":"20% trans","T":44.4,"C":2},{"s":"20% trans","T":44.8,"C":0.9},{"s":"20% trans","T":46,"C":0.6},{"s":"20% trans","T":50,"C":0.55},{"s":"20% trans","T":59,"C":0.5},
{"s":"20% cis","T":22,"C":0.6},{"s":"20% cis","T":30,"C":0.6},{"s":"20% cis","T":35,"C":0.55},{"s":"20% cis","T":38,"C":0.55},{"s":"20% cis","T":39.5,"C":0.7},{"s":"20% cis","T":39.9,"C":2},{"s":"20% cis","T":40.1,"C":5.3},{"s":"20% cis","T":40.35,"C":7.5},{"s":"20% cis","T":40.55,"C":5.3},{"s":"20% cis","T":40.75,"C":2},{"s":"20% cis","T":41,"C":0.9},{"s":"20% cis","T":42,"C":0.6},{"s":"20% cis","T":43.5,"C":0.8},{"s":"20% cis","T":43.9,"C":2},{"s":"20% cis","T":44.1,"C":2.9},{"s":"20% cis","T":44.4,"C":2},{"s":"20% cis","T":44.8,"C":0.9},{"s":"20% cis","T":46,"C":0.6},{"s":"20% cis","T":50,"C":0.55},{"s":"20% cis","T":59,"C":0.5}
],
"inset":[
{"s":"10% trans","T":26.7,"C":19.4},{"s":"10% trans","T":27.9,"C":20.7},{"s":"10% trans","T":29.1,"C":22.5},{"s":"10% trans","T":30.3,"C":23.8},{"s":"10% trans","T":31.5,"C":24.0},{"s":"10% trans","T":32.7,"C":23.2},{"s":"10% trans","T":34.0,"C":22.0},{"s":"10% trans","T":35.7,"C":21.1},
{"s":"10% cis","T":26.7,"C":19.4},{"s":"10% cis","T":27.9,"C":20.6},{"s":"10% cis","T":29.1,"C":22.3},{"s":"10% cis","T":30.3,"C":23.5},{"s":"10% cis","T":31.5,"C":23.5},{"s":"10% cis","T":32.7,"C":22.5},{"s":"10% cis","T":34.0,"C":21.3},{"s":"10% cis","T":35.7,"C":20.3}
]
},
"hconcat":[
{"hconcat":[
 {"width":119,"height":408,"title":"DPPC:1 (100:0)",
  "layer":[
   {"data":{"name":"a1"},"mark":{"type":"line","strokeWidth":1.8,"color":"black","clip":true},
    "encoding":{
     "x":{"field":"q","type":"quantitative","scale":{"domain":[0.5,3.22],"nice":false,"zero":false},"axis":{"title":null,"format":"d","values":[1,2,3]}},
     "y":{"field":"I","type":"quantitative","scale":{"domain":[-0.13,4.08],"nice":false,"zero":false},"axis":{"title":"Intensity (a.u.)","titlePadding":6,"format":".1f","values":[0,0.5,1,1.5,2,2.5,3,3.5,4]}},
     "detail":{"field":"t"}}},
   {"data":{"values":[{"q":2.6,"I":3.24,"t":"55°C"},{"q":2.6,"I":2.17,"t":"45°C"},{"q":2.6,"I":1.15,"t":"37°C"},{"q":2.6,"I":0.14,"t":"25°C"}]},"mark":{"type":"text"},
    "encoding":{"x":{"field":"q","type":"quantitative","scale":{"domain":[0.5,3.22],"nice":false,"zero":false},"axis":null},"y":{"field":"I","type":"quantitative","scale":{"domain":[-0.13,4.08],"nice":false,"zero":false},"axis":null},"text":{"field":"t"}}},
   {"data":{"values":[{"q":-0.12,"I":4.15,"t":"(a)"}]},"mark":{"type":"text","fontStyle":"italic","clip":false},
    "encoding":{"x":{"field":"q","type":"quantitative","scale":{"domain":[0.5,3.22],"nice":false,"zero":false},"axis":null},"y":{"field":"I","type":"quantitative","scale":{"domain":[-0.13,4.08],"nice":false,"zero":false},"axis":null},"text":{"field":"t"}}},
   {"data":{"values":[{"q":1,"I":1}]},"mark":{"type":"point","opacity":0},
    "encoding":{
     "x":{"field":"q","type":"quantitative","scale":{"domain":[0.5,3.22],"nice":false,"zero":false},"axis":{"orient":"bottom","title":null,"labels":false,"domain":false,"tickSize":-3,"values":[0.6,0.8,1.2,1.4,1.6,1.8,2.2,2.4,2.6,2.8,3.2]}},
     "y":{"field":"I","type":"quantitative","scale":{"domain":[-0.13,4.08],"nice":false,"zero":false},"axis":{"orient":"left","title":null,"labels":false,"domain":false,"tickSize":-3,"values":[-0.1,0.1,0.2,0.3,0.4,0.6,0.7,0.8,0.9,1.1,1.2,1.3,1.4,1.6,1.7,1.8,1.9,2.1,2.2,2.3,2.4,2.6,2.7,2.8,2.9,3.1,3.2,3.3,3.4,3.6,3.7,3.8,3.9]}}}},
   {"data":{"values":[{"q":1,"I":1}]},"mark":{"type":"point","opacity":0},
    "encoding":{
     "x":{"field":"q","type":"quantitative","scale":{"domain":[0.5,3.22],"nice":false,"zero":false},"axis":null},
     "y":{"field":"I","type":"quantitative","scale":{"domain":[-0.13,4.08],"nice":false,"zero":false},"axis":{"orient":"right","title":null,"labels":false,"domain":false,"values":[0,0.5,1,1.5,2,2.5,3,3.5,4]}}}},
   {"data":{"values":[{"q":1,"I":1}]},"mark":{"type":"point","opacity":0},
    "encoding":{
     "x":{"field":"q","type":"quantitative","scale":{"domain":[0.5,3.22],"nice":false,"zero":false},"axis":null},
     "y":{"field":"I","type":"quantitative","scale":{"domain":[-0.13,4.08],"nice":false,"zero":false},"axis":{"orient":"right","title":null,"labels":false,"domain":false,"tickSize":-3,"values":[-0.1,0.1,0.2,0.3,0.4,0.6,0.7,0.8,0.9,1.1,1.2,1.3,1.4,1.6,1.7,1.8,1.9,2.1,2.2,2.3,2.4,2.6,2.7,2.8,2.9,3.1,3.2,3.3,3.4,3.6,3.7,3.8,3.9]}}}}
  ],
  "resolve":{"axis":{"x":"independent","y":"independent"}}},
 {"width":119,"height":408,"title":"DPPC:1 (90:10)",
  "layer":[
   {"data":{"name":"a2"},"mark":{"type":"line","strokeWidth":1.8,"clip":true},
    "encoding":{
     "x":{"field":"q","type":"quantitative","scale":{"domain":[0.5,3.22],"nice":false,"zero":false},"axis":{"title":"q (nm⁻¹)","titlePadding":4,"format":"d","values":[1,2,3]}},
     "y":{"field":"I","type":"quantitative","scale":{"domain":[-0.13,4.08],"nice":false,"zero":false},"axis":{"title":null,"labels":false,"values":[0,0.5,1,1.5,2,2.5,3,3.5,4]}},
     "color":{"field":"s","type":"nominal","scale":{"domain":["trans","cis"],"range":["#5b9fe3","#c0222e"]},"legend":{"title":null,"orient":"top-right","offset":6,"fillColor":"white","strokeColor":"#cccccc","padding":4,"cornerRadius":3,"symbolType":"M-1,0H2.5","symbolStrokeWidth":2,"symbolSize":289,"labelOffset":22,"rowPadding":0}},
     "detail":{"field":"t"}}},
   {"data":{"values":[{"q":2.6,"I":3.24,"t":"55°C"},{"q":2.6,"I":2.17,"t":"45°C"},{"q":2.6,"I":1.15,"t":"37°C"},{"q":2.6,"I":0.14,"t":"25°C"}]},"mark":{"type":"text"},
    "encoding":{"x":{"field":"q","type":"quantitative","scale":{"domain":[0.5,3.22],"nice":false,"zero":false},"axis":null},"y":{"field":"I","type":"quantitative","scale":{"domain":[-0.13,4.08],"nice":false,"zero":false},"axis":null},"text":{"field":"t"}}},
   {"data":{"values":[{"q":1,"I":1}]},"mark":{"type":"point","opacity":0},
    "encoding":{
     "x":{"field":"q","type":"quantitative","scale":{"domain":[0.5,3.22],"nice":false,"zero":false},"axis":{"orient":"bottom","title":null,"labels":false,"domain":false,"tickSize":-3,"values":[0.6,0.8,1.2,1.4,1.6,1.8,2.2,2.4,2.6,2.8,3.2]}},
     "y":{"field":"I","type":"quantitative","scale":{"domain":[-0.13,4.08],"nice":false,"zero":false},"axis":{"orient":"left","title":null,"labels":false,"domain":false,"tickSize":-3,"values":[-0.1,0.1,0.2,0.3,0.4,0.6,0.7,0.8,0.9,1.1,1.2,1.3,1.4,1.6,1.7,1.8,1.9,2.1,2.2,2.3,2.4,2.6,2.7,2.8,2.9,3.1,3.2,3.3,3.4,3.6,3.7,3.8,3.9]}}}},
   {"data":{"values":[{"q":1,"I":1}]},"mark":{"type":"point","opacity":0},
    "encoding":{
     "x":{"field":"q","type":"quantitative","scale":{"domain":[0.5,3.22],"nice":false,"zero":false},"axis":null},
     "y":{"field":"I","type":"quantitative","scale":{"domain":[-0.13,4.08],"nice":false,"zero":false},"axis":{"orient":"right","title":null,"labels":false,"domain":false,"values":[0,0.5,1,1.5,2,2.5,3,3.5,4]}}}},
   {"data":{"values":[{"q":1,"I":1}]},"mark":{"type":"point","opacity":0},
    "encoding":{
     "x":{"field":"q","type":"quantitative","scale":{"domain":[0.5,3.22],"nice":false,"zero":false},"axis":null},
     "y":{"field":"I","type":"quantitative","scale":{"domain":[-0.13,4.08],"nice":false,"zero":false},"axis":{"orient":"right","title":null,"labels":false,"domain":false,"tickSize":-3,"values":[-0.1,0.1,0.2,0.3,0.4,0.6,0.7,0.8,0.9,1.1,1.2,1.3,1.4,1.6,1.7,1.8,1.9,2.1,2.2,2.3,2.4,2.6,2.7,2.8,2.9,3.1,3.2,3.3,3.4,3.6,3.7,3.8,3.9]}}}}
  ],
  "resolve":{"axis":{"x":"independent","y":"independent"}}},
 {"width":119,"height":408,"title":"DPPC:1 (80:20)",
  "layer":[
   {"data":{"name":"a3"},"mark":{"type":"line","strokeWidth":2.4,"clip":true},
    "encoding":{
     "x":{"field":"q","type":"quantitative","scale":{"domain":[0.5,3.22],"nice":false,"zero":false},"axis":{"title":null,"format":"d","values":[1,2,3]}},
     "y":{"field":"I","type":"quantitative","scale":{"domain":[-0.13,4.08],"nice":false,"zero":false},"axis":{"title":null,"labels":false,"values":[0,0.5,1,1.5,2,2.5,3,3.5,4]}},
     "color":{"field":"s","type":"nominal","scale":{"domain":["trans","cis"],"range":["#2b2ba6","#e89a9b"]},"legend":{"title":null,"orient":"top-right","offset":6,"fillColor":"white","strokeColor":"#cccccc","padding":4,"cornerRadius":3,"symbolType":"M-1,0H2.5","symbolStrokeWidth":2,"symbolSize":289,"labelOffset":22,"rowPadding":0}},
     "detail":{"field":"t"}}},
   {"data":{"values":[{"q":2.6,"I":2.17,"t":"45°C"},{"q":2.6,"I":1.15,"t":"37°C"},{"q":2.6,"I":0.14,"t":"25°C"}]},"mark":{"type":"text"},
    "encoding":{"x":{"field":"q","type":"quantitative","scale":{"domain":[0.5,3.22],"nice":false,"zero":false},"axis":null},"y":{"field":"I","type":"quantitative","scale":{"domain":[-0.13,4.08],"nice":false,"zero":false},"axis":null},"text":{"field":"t"}}},
   {"data":{"values":[{"q":1,"I":1}]},"mark":{"type":"point","opacity":0},
    "encoding":{
     "x":{"field":"q","type":"quantitative","scale":{"domain":[0.5,3.22],"nice":false,"zero":false},"axis":{"orient":"bottom","title":null,"labels":false,"domain":false,"tickSize":-3,"values":[0.6,0.8,1.2,1.4,1.6,1.8,2.2,2.4,2.6,2.8,3.2]}},
     "y":{"field":"I","type":"quantitative","scale":{"domain":[-0.13,4.08],"nice":false,"zero":false},"axis":{"orient":"left","title":null,"labels":false,"domain":false,"tickSize":-3,"values":[-0.1,0.1,0.2,0.3,0.4,0.6,0.7,0.8,0.9,1.1,1.2,1.3,1.4,1.6,1.7,1.8,1.9,2.1,2.2,2.3,2.4,2.6,2.7,2.8,2.9,3.1,3.2,3.3,3.4,3.6,3.7,3.8,3.9]}}}},
   {"data":{"values":[{"q":1,"I":1}]},"mark":{"type":"point","opacity":0},
    "encoding":{
     "x":{"field":"q","type":"quantitative","scale":{"domain":[0.5,3.22],"nice":false,"zero":false},"axis":null},
     "y":{"field":"I","type":"quantitative","scale":{"domain":[-0.13,4.08],"nice":false,"zero":false},"axis":{"orient":"right","title":null,"labels":false,"domain":false,"values":[0,0.5,1,1.5,2,2.5,3,3.5,4]}}}},
   {"data":{"values":[{"q":1,"I":1}]},"mark":{"type":"point","opacity":0},
    "encoding":{
     "x":{"field":"q","type":"quantitative","scale":{"domain":[0.5,3.22],"nice":false,"zero":false},"axis":null},
     "y":{"field":"I","type":"quantitative","scale":{"domain":[-0.13,4.08],"nice":false,"zero":false},"axis":{"orient":"right","title":null,"labels":false,"domain":false,"tickSize":-3,"values":[-0.1,0.1,0.2,0.3,0.4,0.6,0.7,0.8,0.9,1.1,1.2,1.3,1.4,1.6,1.7,1.8,1.9,2.1,2.2,2.3,2.4,2.6,2.7,2.8,2.9,3.1,3.2,3.3,3.4,3.6,3.7,3.8,3.9]}}}}
  ],
  "resolve":{"axis":{"x":"independent","y":"independent"}}}
 ],
 "spacing":8,
 "bounds":"flush",
 "resolve":{"scale":{"color":"independent"},"legend":{"color":"independent"}}},
{"vconcat":[
 {"width":147,"height":106,
  "layer":[
   {"data":{"values":[{"x1":40.6,"x2":58.6,"y1":9.35,"y2":12.25}]},"mark":{"type":"rect","fill":"white","stroke":"#cccccc","strokeWidth":1,"cornerRadius":3},
    "encoding":{"x":{"field":"x1","type":"quantitative","scale":{"domain":[22,59],"nice":false,"zero":false},"axis":null},"x2":{"field":"x2"},"y":{"field":"y1","type":"quantitative","scale":{"domain":[5.7,12.35],"nice":false,"zero":false},"axis":null},"y2":{"field":"y2"}}},
   {"data":{"values":[{"s":"10% cis","T":25,"lo":9.7,"hi":12.1},{"s":"10% cis","T":36,"lo":9.6,"hi":11.75},{"s":"20% trans","T":25,"lo":12.0,"hi":12.35},{"s":"10% trans","T":36,"lo":10.9,"hi":11.75}]},"mark":{"type":"rule","strokeWidth":1.6,"clip":true},
    "encoding":{"x":{"field":"T","type":"quantitative","scale":{"domain":[22,59],"nice":false,"zero":false},"axis":null},"y":{"field":"lo","type":"quantitative","scale":{"domain":[5.7,12.35],"nice":false,"zero":false},"axis":null},"y2":{"field":"hi"},
     "color":{"field":"s","type":"nominal","scale":{"domain":["DPPC","10% trans","10% cis","20% trans","20% cis"],"range":["black","#5b9fe3","#c0222e","#2b2ba6","#e89a9b"]},"legend":null}}},
   {"data":{"name":"bpts"},"mark":{"type":"point","filled":false,"size":70,"strokeWidth":1.4,"clip":true},
    "encoding":{
     "x":{"field":"T","type":"quantitative","scale":{"domain":[22,59],"nice":false,"zero":false},"axis":{"title":null,"labels":false,"values":[25,40,55]}},
     "y":{"field":"d","type":"quantitative","scale":{"domain":[5.7,12.35],"nice":false,"zero":false},"axis":{"title":"d (nm)","titlePadding":4,"format":"d","values":[6,8,10,12]}},
     "color":{"field":"s","type":"nominal","scale":{"domain":["DPPC","10% trans","10% cis","20% trans","20% cis"],"range":["black","#5b9fe3","#c0222e","#2b2ba6","#e89a9b"]},"legend":null},
     "shape":{"field":"s","type":"nominal","scale":{"domain":["DPPC","10% trans","10% cis","20% trans","20% cis"],"range":["circle","square","diamond","triangle-down","triangle-up"]},"legend":null}}},
   {"data":{"values":[{"s":"DPPC","T":44.6,"d":11.8},{"s":"10% trans","T":42.6,"d":10.8},{"s":"10% cis","T":46.4,"d":10.8},{"s":"20% trans","T":42.6,"d":9.85},{"s":"20% cis","T":46.4,"d":9.85}]},"mark":{"type":"point","filled":false,"size":70,"strokeWidth":1.4},
    "encoding":{
     "x":{"field":"T","type":"quantitative","scale":{"domain":[22,59],"nice":false,"zero":false},"axis":null},
     "y":{"field":"d","type":"quantitative","scale":{"domain":[5.7,12.35],"nice":false,"zero":false},"axis":null},
     "color":{"field":"s","type":"nominal","scale":{"domain":["DPPC","10% trans","10% cis","20% trans","20% cis"],"range":["black","#5b9fe3","#c0222e","#2b2ba6","#e89a9b"]},"legend":null},
     "shape":{"field":"s","type":"nominal","scale":{"domain":["DPPC","10% trans","10% cis","20% trans","20% cis"],"range":["circle","square","diamond","triangle-down","triangle-up"]},"legend":null}}},
   {"data":{"values":[{"T":49.8,"d":11.8,"t":"DPPC"},{"T":49.8,"d":10.8,"t":"10%"},{"T":49.8,"d":9.85,"t":"20%"}]},"mark":{"type":"text","align":"left","fontSize":12},
    "encoding":{"x":{"field":"T","type":"quantitative","scale":{"domain":[22,59],"nice":false,"zero":false},"axis":null},"y":{"field":"d","type":"quantitative","scale":{"domain":[5.7,12.35],"nice":false,"zero":false},"axis":null},"text":{"field":"t"}}},
   {"data":{"values":[{"T":29.6,"d":9.4,"t":"Pn3m"},{"T":45.8,"d":7.6,"t":"lamellar"}]},"mark":{"type":"text","color":"#9a9a9a"},
    "encoding":{"x":{"field":"T","type":"quantitative","scale":{"domain":[22,59],"nice":false,"zero":false},"axis":null},"y":{"field":"d","type":"quantitative","scale":{"domain":[5.7,12.35],"nice":false,"zero":false},"axis":null},"text":{"field":"t"}}},
   {"data":{"values":[{"T":14.6,"d":12.0,"t":"(b)"}]},"mark":{"type":"text","fontStyle":"italic","clip":false},
    "encoding":{"x":{"field":"T","type":"quantitative","scale":{"domain":[22,59],"nice":false,"zero":false},"axis":null},"y":{"field":"d","type":"quantitative","scale":{"domain":[5.7,12.35],"nice":false,"zero":false},"axis":null},"text":{"field":"t"}}},
   {"data":{"values":[{"T":30,"d":8}]},"mark":{"type":"point","opacity":0},
    "encoding":{
     "x":{"field":"T","type":"quantitative","scale":{"domain":[22,59],"nice":false,"zero":false},"axis":{"orient":"bottom","title":null,"labels":false,"domain":false,"tickSize":-3,"values":[28.75,32.5,36.25,43.75,47.5,51.25,58.75]}},
     "y":{"field":"d","type":"quantitative","scale":{"domain":[5.7,12.35],"nice":false,"zero":false},"axis":{"orient":"left","title":null,"labels":false,"domain":false,"tickSize":-3,"values":[6.5,7,7.5,8.5,9,9.5,10.5,11,11.5]}}}},
   {"data":{"values":[{"T":30,"d":8}]},"mark":{"type":"point","opacity":0},
    "encoding":{
     "x":{"field":"T","type":"quantitative","scale":{"domain":[22,59],"nice":false,"zero":false},"axis":null},
     "y":{"field":"d","type":"quantitative","scale":{"domain":[5.7,12.35],"nice":false,"zero":false},"axis":{"orient":"right","title":null,"labels":false,"domain":false,"values":[6,8,10,12]}}}},
   {"data":{"values":[{"T":30,"d":8}]},"mark":{"type":"point","opacity":0},
    "encoding":{
     "x":{"field":"T","type":"quantitative","scale":{"domain":[22,59],"nice":false,"zero":false},"axis":null},
     "y":{"field":"d","type":"quantitative","scale":{"domain":[5.7,12.35],"nice":false,"zero":false},"axis":{"orient":"right","title":null,"labels":false,"domain":false,"tickSize":-3,"values":[6.5,7,7.5,8.5,9,9.5,10.5,11,11.5]}}}}
  ],
  "resolve":{"axis":{"x":"independent","y":"independent"}}},
 {"width":152,"height":287,
  "layer":[
   {"data":{"name":"c"},"mark":{"type":"line","strokeWidth":1.8,"clip":true},
    "encoding":{
     "x":{"field":"T","type":"quantitative","scale":{"domain":[22,59],"nice":false,"zero":false},"axis":{"title":"Temperature (°C)","titlePadding":4,"values":[25,40,55]}},
     "y":{"field":"C","type":"quantitative","scale":{"domain":[-1.2,68.3],"nice":false,"zero":false},"axis":{"title":"Heat capacity (kcal K⁻¹ mol⁻¹)","titlePadding":5,"values":[0,10,20,30,40,50,60]}},
     "color":{"field":"s","type":"nominal","scale":{"domain":["DPPC","10% trans","10% cis","20% trans","20% cis"],"range":["black","#5b9fe3","#c0222e","#2b2ba6","#e89a9b"]},"legend":null}}},
   {"data":{"values":[{"x1":26.5,"x2":35.9,"y1":17.0,"y2":25.7}]},"mark":{"type":"rect","fill":"white","stroke":"#444444","strokeWidth":1},
    "encoding":{"x":{"field":"x1","type":"quantitative","scale":{"domain":[22,59],"nice":false,"zero":false},"axis":null},"x2":{"field":"x2"},"y":{"field":"y1","type":"quantitative","scale":{"domain":[-1.2,68.3],"nice":false,"zero":false},"axis":null},"y2":{"field":"y2"}}},
   {"data":{"values":[{"x1":31.1,"x2":34.4,"y1":14.7,"y2":15.8}]},"mark":{"type":"rect","fillOpacity":0,"stroke":"#444444","strokeWidth":1},
    "encoding":{"x":{"field":"x1","type":"quantitative","scale":{"domain":[22,59],"nice":false,"zero":false},"axis":null},"x2":{"field":"x2"},"y":{"field":"y1","type":"quantitative","scale":{"domain":[-1.2,68.3],"nice":false,"zero":false},"axis":null},"y2":{"field":"y2"}}},
   {"data":{"values":[{"x1":27.1,"y1":17.0,"x2":31.1,"y2":15.8},{"x1":35.6,"y1":17.0,"x2":34.4,"y2":15.8}]},"mark":{"type":"rule","color":"#444444","strokeWidth":1},
    "encoding":{"x":{"field":"x1","type":"quantitative","scale":{"domain":[22,59],"nice":false,"zero":false},"axis":null},"x2":{"field":"x2"},"y":{"field":"y1","type":"quantitative","scale":{"domain":[-1.2,68.3],"nice":false,"zero":false},"axis":null},"y2":{"field":"y2"}}},
   {"data":{"name":"inset"},"mark":{"type":"line","strokeWidth":2.2},
    "encoding":{"x":{"field":"T","type":"quantitative","scale":{"domain":[22,59],"nice":false,"zero":false},"axis":null},"y":{"field":"C","type":"quantitative","scale":{"domain":[-1.2,68.3],"nice":false,"zero":false},"axis":null},
     "color":{"field":"s","type":"nominal","scale":{"domain":["DPPC","10% trans","10% cis","20% trans","20% cis"],"range":["black","#5b9fe3","#c0222e","#2b2ba6","#e89a9b"]},"legend":null}}},
   {"data":{"values":[{"T":49.1,"C":39.7,"t":"38.2 kJ/mol"},{"T":31.3,"C":33.0,"t":"4.8 kJ/mol"},{"T":48.8,"C":25.7,"t":"27.1 kJ/mol"},{"T":49.3,"C":19.2,"t":"3.6 kJ/mol"},{"T":32.0,"C":11.9,"t":"1.4 kJ/mol"},{"T":49.3,"C":11.9,"t":"17.5 kJ/mol"},{"T":50.2,"C":5.3,"t":"6.3 kJ/mol"},{"T":31.5,"C":3.1,"t":"0.5 kJ/mol"}]},"mark":{"type":"text"},
    "encoding":{"x":{"field":"T","type":"quantitative","scale":{"domain":[22,59],"nice":false,"zero":false},"axis":null},"y":{"field":"C","type":"quantitative","scale":{"domain":[-1.2,68.3],"nice":false,"zero":false},"axis":null},"text":{"field":"t"}}},
   {"data":{"values":[{"T":14.6,"C":65.6,"t":"(c)"}]},"mark":{"type":"text","fontStyle":"italic","clip":false},
    "encoding":{"x":{"field":"T","type":"quantitative","scale":{"domain":[22,59],"nice":false,"zero":false},"axis":null},"y":{"field":"C","type":"quantitative","scale":{"domain":[-1.2,68.3],"nice":false,"zero":false},"axis":null},"text":{"field":"t"}}},
   {"data":{"values":[{"T":30,"C":10}]},"mark":{"type":"point","opacity":0},
    "encoding":{
     "x":{"field":"T","type":"quantitative","scale":{"domain":[22,59],"nice":false,"zero":false},"axis":{"orient":"bottom","title":null,"labels":false,"domain":false,"tickSize":-3,"values":[28.75,32.5,36.25,43.75,47.5,51.25,58.75]}},
     "y":{"field":"C","type":"quantitative","scale":{"domain":[-1.2,68.3],"nice":false,"zero":false},"axis":{"orient":"left","title":null,"labels":false,"domain":false,"tickSize":-3,"values":[2,4,6,8,12,14,16,18,22,24,26,28,32,34,36,38,42,44,46,48,52,54,56,58,62,64,66,68]}}}},
   {"data":{"values":[{"T":30,"C":10}]},"mark":{"type":"point","opacity":0},
    "encoding":{
     "x":{"field":"T","type":"quantitative","scale":{"domain":[22,59],"nice":false,"zero":false},"axis":null},
     "y":{"field":"C","type":"quantitative","scale":{"domain":[-1.2,68.3],"nice":false,"zero":false},"axis":{"orient":"right","title":null,"labels":false,"domain":false,"values":[0,10,20,30,40,50,60]}}}},
   {"data":{"values":[{"T":30,"C":10}]},"mark":{"type":"point","opacity":0},
    "encoding":{
     "x":{"field":"T","type":"quantitative","scale":{"domain":[22,59],"nice":false,"zero":false},"axis":null},
     "y":{"field":"C","type":"quantitative","scale":{"domain":[-1.2,68.3],"nice":false,"zero":false},"axis":{"orient":"right","title":null,"labels":false,"domain":false,"tickSize":-3,"values":[2,4,6,8,12,14,16,18,22,24,26,28,32,34,36,38,42,44,46,48,52,54,56,58,62,64,66,68]}}}}
  ],
  "resolve":{"axis":{"x":"independent","y":"independent"}}}
 ],
 "spacing":13,
 "bounds":"flush",
 "resolve":{"scale":{"color":"shared","shape":"shared"}}}
],
"spacing":30,
"align":"none",
"resolve":{"scale":{"color":"independent","shape":"independent"},"legend":{"color":"independent","shape":"independent"}}
}
